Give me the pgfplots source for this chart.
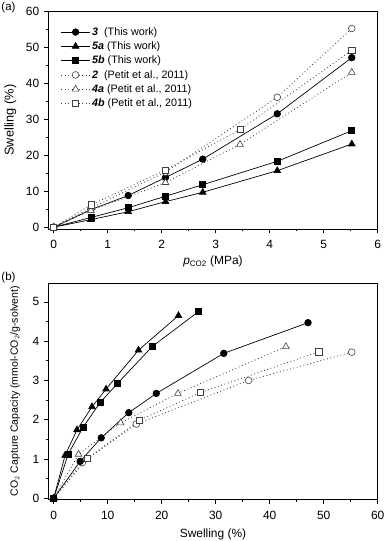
\documentclass[border=0pt]{standalone}
\usepackage{pgfplots}
\pgfplotsset{compat=1.18}
\usepackage{fontspec}
\setmainfont{Liberation Sans}
\begin{document}
\begin{tikzpicture}
\useasboundingbox (0bp,0bp) rectangle (385bp,541bp);
\pgfplotsset{
  every axis/.append style={
    scale only axis, width=329.4bp,
    tick align=outside, xtick pos=bottom, ytick pos=left,
    major tick length=4bp, minor tick length=2.5bp,
    tick style={black, line width=0.6pt},
    axis line style={line width=0.8pt},
    /pgf/number format/assume math mode=true,
    tick label style={font=\fontsize{12}{13}\selectfont},
    xticklabel style={yshift=-4bp},
    yticklabel style={xshift=-1.5bp},
    label style={font=\fontsize{12}{13}\selectfont},
    minor tick num=1,
  },
  work/.style={black, line width=0.7pt, mark options={solid, fill=black}},
  lit/.style={black!75, line width=0.8pt, dash pattern=on 0.9pt off 2.6pt, mark options={solid, fill=white, line width=0.6pt}},
}
% ---------------- (a) ----------------
\begin{axis}[
  at={(48.3bp,312bp)}, anchor=south west, height=217.8bp,
  xmin=-0.1, xmax=6, ymin=-0.5, ymax=60,
  xtick={0,1,2,3,4,5,6}, ytick={0,10,20,30,40,50,60},
  xlabel={$\mathit{p}_{\mathrm{CO2}}$ (MPa)},
  ylabel={Swelling (\%)},
  xlabel style={at={(axis description cs:0.5,-0.150)}, anchor=center},
  ylabel style={at={(axis description cs:-0.115,0.5)}, anchor=center, font=\fontsize{12.8}{14}\selectfont},
  legend style={draw=none, fill=none, at={(0.035,0.94)}, anchor=north west,
    font=\fontsize{10.8}{12}\selectfont, row sep=1bp, inner sep=1bp},
  legend cell align=left,
  legend image code/.code={\draw[mark repeat=2,mark phase=2,#1] plot coordinates {(0cm,0cm) (0.5cm,0cm) (1cm,0cm)};},
]
\addplot[work, mark=*, mark size=3.3] coordinates {(0,0)(0.69,4.9)(1.38,8.8)(2.07,13.8)(2.76,18.9)(4.14,31.5)(5.52,47.1)};
\addlegendentry{\textbf{\textit{3}}\ \ (This work)}
\addplot[work, mark=triangle*, mark size=3.8] coordinates {(0,0)(0.69,2.1)(1.38,4.3)(2.07,7.1)(2.76,9.7)(4.14,15.7)(5.52,23.1)};
\addlegendentry{\textbf{\textit{5a}} (This work)}
\addplot[work, mark=square*, mark size=3.0] coordinates {(0,0)(0.69,2.7)(1.38,5.4)(2.07,8.6)(2.76,11.8)(4.14,18.3)(5.52,26.8)};
\addlegendentry{\textbf{\textit{5b}} (This work)}
\addplot[lit, mark=*, mark size=3.4] coordinates {(0,0)(0.69,5.3)(2.07,15.3)(4.14,36.1)(5.52,55.2)};
\addlegendentry{\textbf{\textit{2}}\ \ (Petit et al., 2011)}
\addplot[lit, mark=triangle*, mark size=3.9] coordinates {(0,0)(0.69,4.6)(2.07,12.4)(3.45,23.0)(5.52,43.0)};
\addlegendentry{\textbf{\textit{4a}} (Petit et al., 2011)}
\addplot[lit, mark=square*, mark size=3.1] coordinates {(0,0)(0.69,6.2)(2.07,15.9)(3.45,27.1)(5.52,49.1)};
\addlegendentry{\textbf{\textit{4b}} (Petit et al., 2011)}
\end{axis}
% ---------------- (b) ----------------
\begin{axis}[
  at={(48.3bp,41.5bp)}, anchor=south west, height=216.5bp,
  xmin=-1, xmax=60, ymin=-0.03, ymax=5.48,
  xtick={0,10,20,30,40,50,60}, ytick={0,1,2,3,4,5},
  xlabel={Swelling (\%)},
  ylabel={CO$_2$ Capture Capacity (mmol-CO$_2$/g-solvent)},
  xlabel style={at={(axis description cs:0.5,-0.159)}, anchor=center},
  ylabel style={at={(axis description cs:-0.101,0.5)}, anchor=center, font=\fontsize{10.6}{12}\selectfont},
]
\addplot[lit, mark=*, mark size=3.4] coordinates {(0,0)(5.3,0.91)(15.3,1.89)(36.1,3.00)(55.2,3.72)};
\addplot[lit, mark=triangle*, mark size=3.9] coordinates {(0,0)(4.6,1.12)(12.4,1.92)(23.0,2.67)(43.0,3.86)};
\addplot[lit, mark=square*, mark size=3.1] coordinates {(0,0)(6.2,1.01)(15.9,1.99)(27.1,2.69)(49.1,3.73)};
\addplot[work, mark=*, mark size=3.3] coordinates {(0,0)(4.9,0.94)(8.8,1.54)(13.9,2.18)(19.0,2.67)(31.5,3.69)(47.1,4.47)};
\addplot[work, mark=triangle*, mark size=3.8] coordinates {(0,0)(2.1,1.09)(4.3,1.74)(7.1,2.33)(9.7,2.78)(15.7,3.77)(23.1,4.65)};
\addplot[work, mark=square*, mark size=3.0] coordinates {(0,0)(2.7,1.13)(5.4,1.80)(8.6,2.44)(11.8,2.92)(18.3,3.87)(26.8,4.75)};
\end{axis}
\node[font=\fontsize{11.5}{13}\selectfont] at (8.5bp,533bp) {(a)};
\node[font=\fontsize{11.5}{13}\selectfont] at (8.5bp,263bp) {(b)};
\end{tikzpicture}
\end{document}
